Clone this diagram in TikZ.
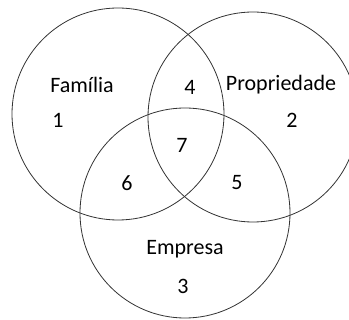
\documentclass[tikz,border=0pt]{standalone}
\usepackage{fontspec}
\setmainfont{Carlito}
\usepackage{tikz}

\begin{document}
\begin{tikzpicture}[x=1pt, y=-1pt,
    conjunto/.style={line width=0.8pt, draw=black!80},
    rotulo/.style={inner sep=0pt, font=\fontsize{22}{26}\selectfont}]
      \clip (0,0) rectangle (349,320);
      \coordinate (cf) at (118,114);
      \coordinate (cp) at (253,117);
      \coordinate (ce) at (185,213);

      \draw[conjunto] (cf) circle (106pt);
      \draw[conjunto] (cp) circle (105pt);
      \draw[conjunto] (ce) circle (105pt);

      \node[rotulo] (familia) at (82,85) {Família};
      \node[rotulo] (n1) at (58,120) {1};
      \node[rotulo] (propriedade) at (281,85) {Propriedade};
      \node[rotulo] (n2) at (292,120) {2};
      \node[rotulo] (empresa) at (185,249) {Empresa};
      \node[rotulo] (n3) at (183,286) {3};
      \node[rotulo] (n4) at (190,87) {4};
      \node[rotulo] (n5) at (237,183) {5};
      \node[rotulo] (n6) at (127,183) {6};
      \node[rotulo] (n7) at (182,145) {7};
    \end{tikzpicture}
\end{document}
